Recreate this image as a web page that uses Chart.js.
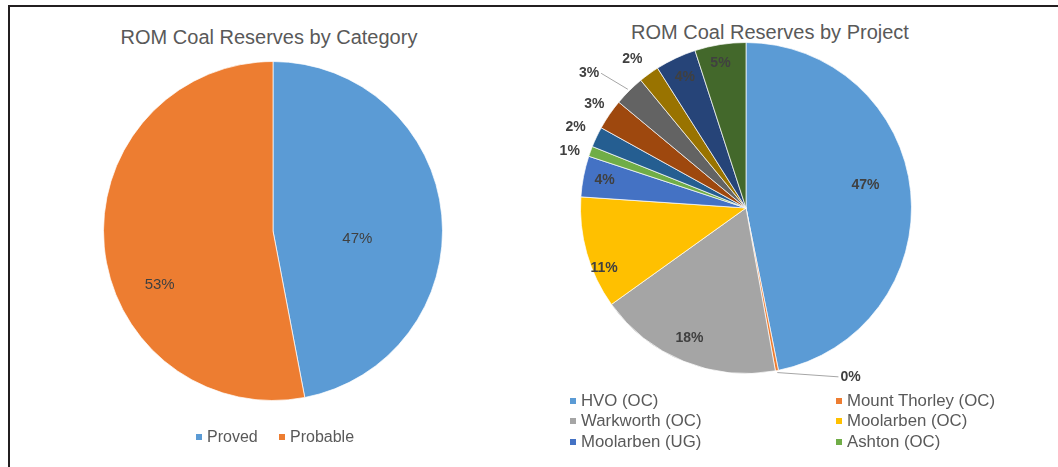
<!DOCTYPE html>
<html>
<head>
<meta charset="utf-8">
<script src="https://cdn.jsdelivr.net/npm/chart.js@4/dist/chart.umd.min.js"></script>
<style>
  html, body { margin: 0; padding: 0; background: #fff; }
  body { width: 1058px; height: 467px; position: relative; overflow: hidden;
         font-family: "Liberation Sans", Arial, sans-serif; }
  .rule { position: absolute; background: #231f20; }
  .title { position: absolute; text-align: center; font-size: 20px; line-height: 24px;
           color: #595959; white-space: nowrap; }
  canvas { position: absolute; }
  .legend-item { position: absolute; display: flex; align-items: center; font-size: 16px;
                 line-height: 20px; color: #595959; white-space: nowrap; }
  .legend-item.wide { font-size: 16.8px; }
  .swatch { width: 6px; height: 6px; margin-right: 5px; flex: none; }
</style>
</head>
<body>
<div class="rule" style="left:8px;top:5px;width:1050px;height:2px;"></div>
<div class="rule" style="left:8px;top:5px;width:2px;height:462px;"></div>

<div class="title" style="left:0;top:25px;width:538px;">ROM Coal Reserves by Category</div>
<div class="title" style="left:530px;top:20px;width:480px;">ROM Coal Reserves by Project</div>

<canvas id="categoryPie" width="530" height="467" style="left:0;top:0;"></canvas>
<canvas id="projectPie" width="528" height="467" style="left:530px;top:0;"></canvas>
<div id="legends"></div>

<script>
// ROM coal reserves split by category (%)
const categoryLabels = ['Proved', 'Probable'];
const categoryShares = [47, 53];
const categoryColors = ['#5B9BD5', '#ED7D31'];

// ROM coal reserves split by project (%), clockwise from 12 o'clock
const projectLabels = [
  'HVO (OC)', 'Mount Thorley (OC)', 'Warkworth (OC)', 'Moolarben (OC)',
  'Moolarben (UG)', 'Ashton (OC)', 'Project 7', 'Project 8', 'Project 9',
  'Project 10', 'Project 11', 'Project 12'
];
const projectShares = [47, 0.3, 18, 11, 4, 1, 2, 3, 3, 2, 4, 5];
const projectColors = [
  '#5B9BD5', '#ED7D31', '#A5A5A5', '#FFC000', '#4472C4', '#70AD47',
  '#255E91', '#9E480E', '#636363', '#997300', '#264478', '#43682B'
];
// number of projects listed in the legend
const projectLegendCount = 6;

// Percentage labels drawn on each slice; per-slice placement is given as
// a fraction of the pie radius and an angular nudge in degrees.
function sliceLabelPlugin(cfg) {
  return {
    id: 'sliceLabels',
    afterDatasetsDraw(chart) {
      const meta = chart.getDatasetMeta(0);
      const values = chart.data.datasets[0].data;
      const total = values.reduce((a, b) => a + b, 0);
      const ctx = chart.ctx;
      ctx.save();
      ctx.font = cfg.font;
      ctx.textAlign = 'center';
      ctx.textBaseline = 'middle';
      meta.data.forEach((arc, i) => {
        const p = cfg.place[i] || {};
        const { x, y, startAngle, endAngle, outerRadius } =
          arc.getProps(['x', 'y', 'startAngle', 'endAngle', 'outerRadius'], true);
        const mid = (startAngle + endAngle) / 2;
        const a = mid + (p.da || 0) * Math.PI / 180;
        const r = outerRadius * (p.r !== undefined ? p.r : cfg.r);
        const lx = x + Math.cos(a) * r;
        const ly = y + Math.sin(a) * r;
        const text = Math.round(values[i] / total * 100) + '%';
        if (p.leader) {
          const w = ctx.measureText(text).width;
          const ax = x + Math.cos(mid) * (outerRadius + 2);
          const ay = y + Math.sin(mid) * (outerRadius + 2);
          const ex = lx < ax ? lx + w / 2 + 2 : lx - w / 2 - 2;
          ctx.strokeStyle = '#a6a6a6';
          ctx.lineWidth = 1;
          ctx.beginPath();
          ctx.moveTo(ex, ly);
          ctx.lineTo(ax, ay);
          ctx.stroke();
        }
        ctx.fillStyle = cfg.color;
        ctx.fillText(text, lx, ly);
      });
      ctx.restore();
    }
  };
}

function pieConfig(labels, values, colors, padding, labelCfg) {
  return {
    type: 'pie',
    data: {
      labels: labels,
      datasets: [{
        data: values,
        backgroundColor: colors,
        borderColor: 'rgba(255,255,255,0.7)',
        borderWidth: 1
      }]
    },
    options: {
      responsive: false,
      animation: false,
      layout: { padding: padding },
      plugins: {
        legend: { display: false },
        title: { display: false },
        tooltip: { enabled: false }
      }
    },
    plugins: [sliceLabelPlugin(labelCfg)]
  };
}

new Chart(document.getElementById('categoryPie'), pieConfig(
  categoryLabels, categoryShares, categoryColors,
  { left: 103, top: 61, right: 87, bottom: 66 },
  {
    font: '15px "Liberation Sans", Arial, sans-serif',
    color: '#404040',
    r: 0.6,
    place: [ { r: 0.5, da: 11 }, { r: 0.74, da: -20 } ]
  }
));

new Chart(document.getElementById('projectPie'), pieConfig(
  projectLabels, projectShares, projectColors,
  { left: 50, top: 42, right: 146, bottom: 93 },
  {
    font: 'bold 14px "Liberation Sans", Arial, sans-serif',
    color: '#404040',
    r: 0.87,
    place: [
      { r: 0.735, da: -5 },
      { r: 1.2, da: -21, leader: true },
      { r: 0.855, da: 1.5 },
      { r: 0.93, da: -7 },
      { r: 0.87, da: 0 },
      { r: 1.12, da: -2 },
      { r: 1.14, da: 0 },
      { r: 1.11, da: 0 },
      { r: 1.25, da: -4.5, leader: true },
      { r: 1.13, da: -1.5 },
      { r: 0.87, da: 0 },
      { r: 0.89, da: -1 }
    ]
  }
));

// Legends
const legendHost = document.getElementById('legends');
function addLegendItem(label, color, left, top, extraClass) {
  const item = document.createElement('div');
  item.className = 'legend-item' + (extraClass ? ' ' + extraClass : '');
  item.style.left = left + 'px';
  item.style.top = top + 'px';
  const sw = document.createElement('span');
  sw.className = 'swatch';
  sw.style.background = color;
  item.appendChild(sw);
  item.appendChild(document.createTextNode(label));
  legendHost.appendChild(item);
}

const categoryLegendX = [196, 279];
categoryLabels.forEach((label, i) => {
  addLegendItem(label, categoryColors[i], categoryLegendX[i], 427);
});

const projectLegendX = [570, 836];
const projectLegendY = [391, 411, 432];
for (let i = 0; i < projectLegendCount; i++) {
  addLegendItem(projectLabels[i], projectColors[i],
    projectLegendX[i % 2], projectLegendY[Math.floor(i / 2)], 'wide');
}
</script>
</body>
</html>
